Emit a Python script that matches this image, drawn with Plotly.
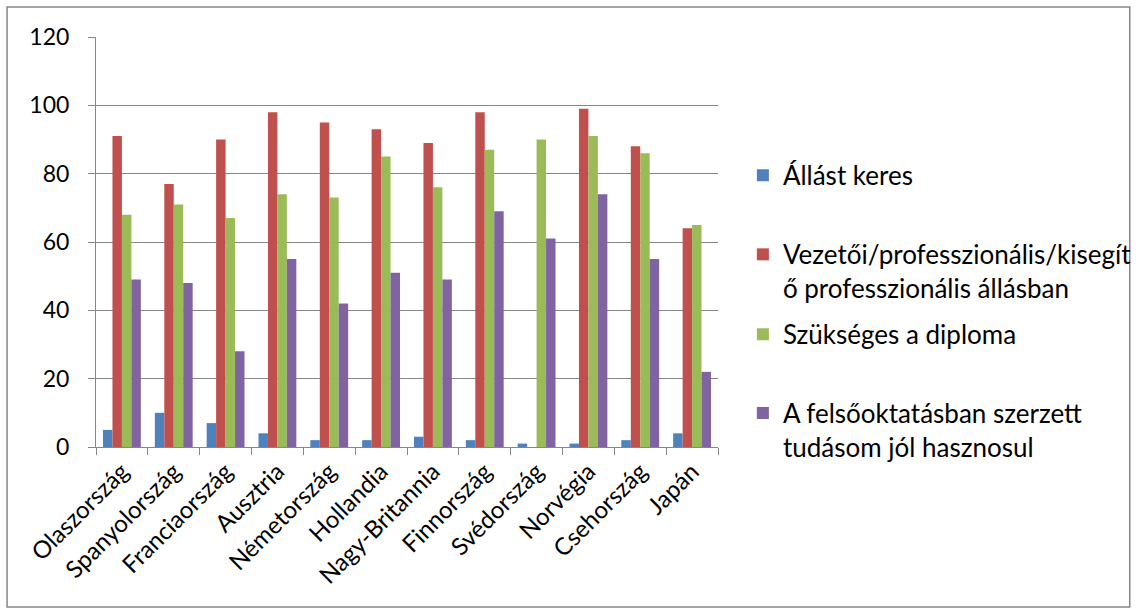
import plotly.graph_objects as go

countries = ["Olaszország", "Spanyolország", "Franciaország", "Ausztria", "Németország",
             "Hollandia", "Nagy-Britannia", "Finnország", "Svédország", "Norvégia",
             "Csehország", "Japán"]

allast_keres = [5, 10, 7, 4, 2, 2, 3, 2, 1, 1, 2, 4]
vezetoi = [91, 77, 90, 98, 95, 93, 89, 98, None, 99, 88, 64]
diploma = [68, 71, 67, 74, 73, 85, 76, 87, 90, 91, 86, 65]
tudas = [49, 48, 28, 55, 42, 51, 49, 69, 61, 74, 55, 22]

series = [
    ("Állást keres", allast_keres, "#4F81BD"),
    ("Vezetői/professzionális/kisegít<br>ő professzionális állásban", vezetoi, "#C0504D"),
    ("Szükséges a diploma", diploma, "#9BBB59"),
    ("A felsőoktatásban szerzett<br>tudásom jól hasznosul", tudas, "#8064A2"),
]

# each legend entry gets its own legend box, stacked down the right side
legend_names = ["legend", "legend2", "legend3", "legend4"]
legend_tops = [0.72, 0.527, 0.332, 0.14]

fig = go.Figure()
for (name, vals, color), lg in zip(series, legend_names):
    fig.add_trace(go.Bar(x=countries, y=vals, name=name, marker_color=color,
                         marker_line_width=0, legend=lg))

font = "Lato, 'Open Sans', sans-serif"
axis_grey = "#868686"
legend_x = 1.04

legend_common = dict(x=legend_x, xanchor="left", yanchor="top",
                     font=dict(size=26), valign="top", itemwidth=30,
                     bgcolor="rgba(0,0,0,0)")

fig.update_layout(
    width=1138, height=615,
    margin=dict(l=96, r=420, t=37, b=168, autoexpand=False),
    paper_bgcolor="white", plot_bgcolor="white",
    font=dict(family=font, size=24, color="black"),
    barmode="group", bargap=0.27, bargroupgap=0,
    showlegend=True,
    xaxis=dict(tickangle=-45, showline=True, linecolor=axis_grey, linewidth=1,
               ticks="outside", tickson="boundaries", ticklen=7, tickcolor=axis_grey,
               showgrid=False, tickfont=dict(size=24), automargin=False),
    yaxis=dict(range=[0, 120], dtick=20, showline=True, linecolor=axis_grey, linewidth=1,
               ticks="outside", ticklen=7, tickcolor=axis_grey,
               showgrid=True, gridcolor=axis_grey, gridwidth=1,
               zeroline=False, ticklabelstandoff=14, tickfont=dict(size=23),
               automargin=False),
    shapes=[dict(type="rect", xref="paper", yref="paper",
                 x0=-0.143, x1=1.662, y0=-0.39, y1=1.073,
                 line=dict(color=axis_grey, width=1.5))],
)
for lg, top in zip(legend_names, legend_tops):
    fig.update_layout({lg: dict(legend_common, y=top)})

fig.write_html("out.html")
